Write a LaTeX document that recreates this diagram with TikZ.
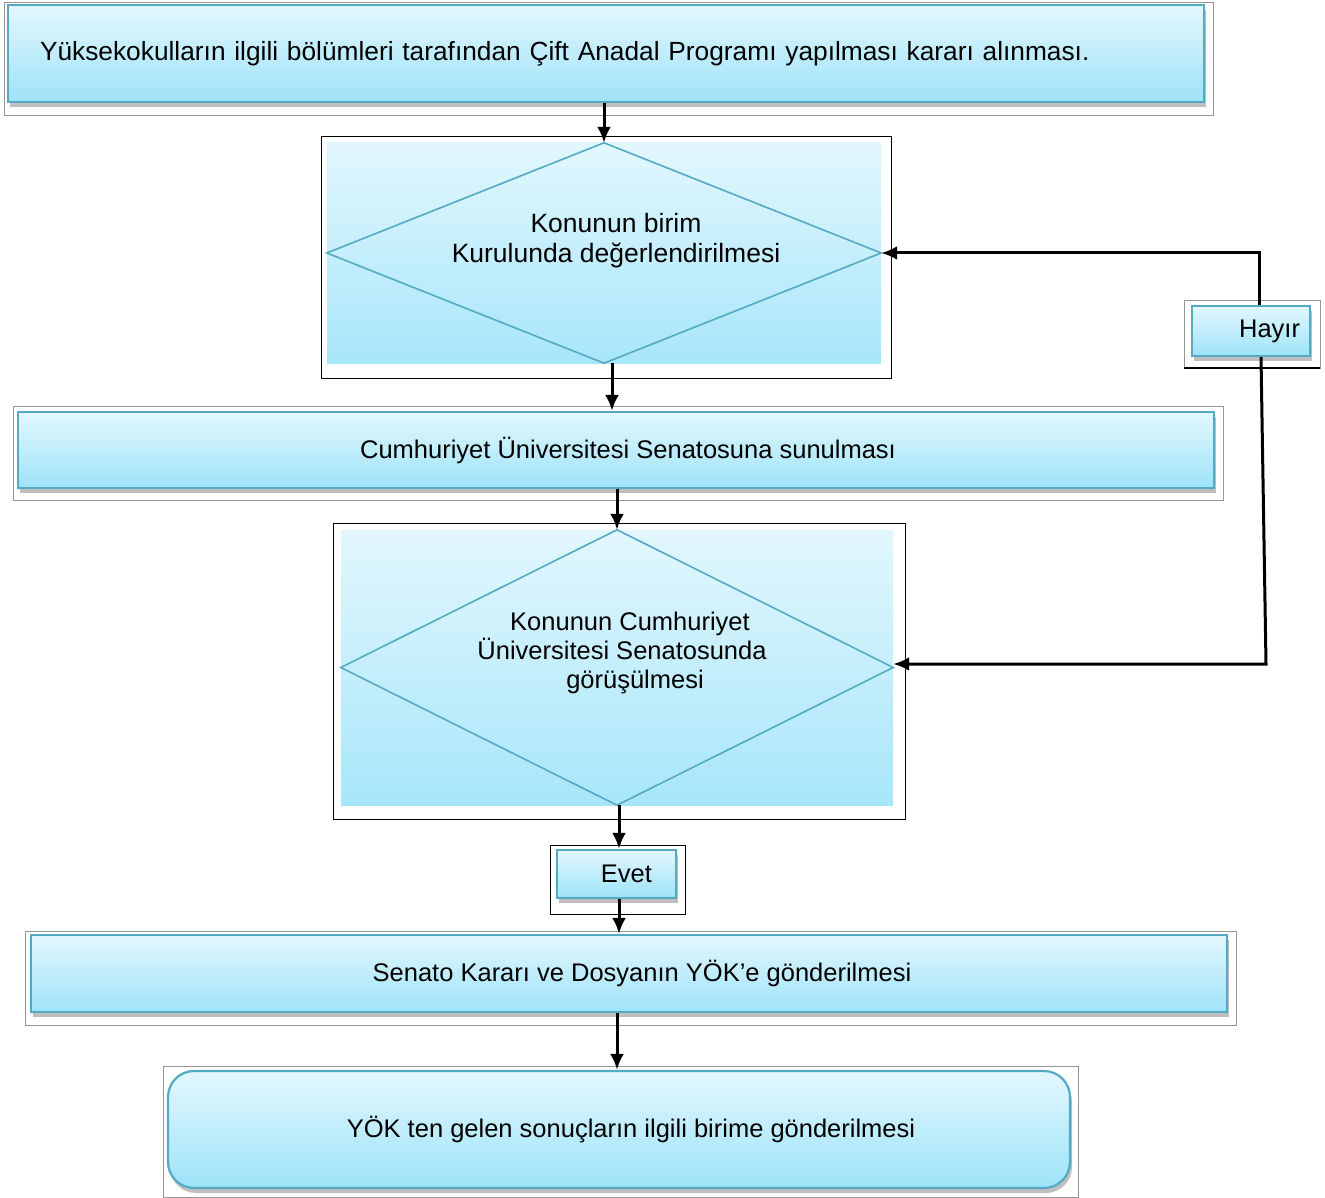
\documentclass[tikz,border=0pt]{standalone}
\usepackage{fontspec}
\setmainfont{Liberation Sans}
\usetikzlibrary{arrows.meta,positioning,shadows}

\definecolor{boxedge}{RGB}{84,170,194}
\definecolor{boxtop}{RGB}{226,247,253}
\definecolor{boxbottom}{RGB}{158,227,249}
\definecolor{framegray}{RGB}{150,150,150}

\begin{document}
\begin{tikzpicture}
[ x=1pt, y=-1pt,
		process/.style={rectangle,draw=boxedge,line width=2.2pt,top color=boxtop,bottom color=boxbottom,inner sep=0pt,
			drop shadow={shadow xshift=2pt,shadow yshift=-5pt,fill=black,opacity=0.25},font=\fontsize{25.5}{31}\selectfont},
		decision/.style={rectangle,top color=boxtop,bottom color=boxbottom!90,inner sep=0pt},
		rhomb/.style={draw=boxedge,line width=1.6pt},
		label text/.style={align=center,inner sep=0pt,font=\fontsize{26.5}{30}\selectfont},
		frame/.style={draw=framegray,line width=0.8pt},
		arrowOut/.style={-{Latex[length=16pt,width=14pt]},line width=3pt}]

	\useasboundingbox (0,0) rectangle (1325,1198);

	% picture frames
	\draw[frame] (4,2) rectangle (1213,115);
	\draw[frame,draw=black] (321,136) rectangle (891,378);
	\draw[frame] (13,406) rectangle (1223,500);
	\draw[frame,draw=black] (333,523) rectangle (905,819);
	\draw[frame,draw=black] (550,845) rectangle (685,914);
	\draw[frame] (25,931) rectangle (1236,1025);
	\draw[frame] (163,1066) rectangle (1078,1197);
	\draw[frame] (1184,300) rectangle (1320,368);
	\draw[line width=2pt] (1184,368) -- (1320,368);

	\node[process,minimum width=1196pt,minimum height=97pt,text width=1132pt,inner xsep=32pt,align=left,
		font=\fontsize{26.3}{31}\selectfont] (karar) at (606,53.5)
		{Yüksekokulların ilgili bölümleri tarafından Çift Anadal Programı yapılması kararı alınması.};

	\node[decision,minimum width=554pt,minimum height=220pt] (kurul) at (604,253) {};
	\draw[rhomb] (kurul.north) -- (kurul.east) -- (kurul.south) -- (kurul.west) -- cycle;
	\node[label text] (kurul text) at (616,241) {Konunun birim\\Kurulunda değerlendirilmesi};

	\node[process,minimum width=1196pt,minimum height=76pt] (sunum) at (616,450)
		{\hspace*{24pt}Cumhuriyet Üniversitesi Senatosuna sunulması};

	\node[decision,minimum width=552pt,minimum height=275pt] (gorus) at (617,667.5) {};
	\draw[rhomb] (gorus.north) -- (gorus.east) -- (gorus.south) -- (gorus.west) -- cycle;
	\node[label text,font=\fontsize{25.5}{29}\selectfont] (gorus text) at (622,653)
		{\hspace{16pt}Konunun Cumhuriyet\\Üniversitesi Senatosunda\\\hspace{26pt}görüşülmesi};

	\node[process,minimum width=119pt,minimum height=48pt,text width=71pt,inner xsep=24pt,align=right] (evet) at (616.5,874) {Evet};

	\node[process,minimum width=1196pt,minimum height=77pt] (senato) at (629,973.5)
		{\hspace*{26pt}Senato Kararı ve Dosyanın YÖK’e gönderilmesi};

	\node[process,rounded corners=26pt,minimum width=902pt,minimum height=117pt] (sonuc) at (619,1129.5)
		{\hspace*{24pt}YÖK ten gelen sonuçların ilgili birime gönderilmesi};

	\node[process,minimum width=118pt,minimum height=50pt,text width=98pt,inner xsep=10pt,align=right] (hayir) at (1251,331) {Hayır};

	\coordinate (hayir top) at (1259,253);
	\coordinate (hayir bottom) at (1266,664);

	\draw[arrowOut] (karar.south -| kurul.north) -- (kurul.north);
	\draw[arrowOut] ([xshift=8pt]kurul.south) -- ([xshift=-4pt]sunum.north);
	\draw[arrowOut] (sunum.south -| gorus.north) -- (gorus.north);
	\draw[arrowOut] ([xshift=2pt]gorus.south) -- ([xshift=2pt]gorus.south |- evet.north);
	\draw[arrowOut] ([xshift=2pt]gorus.south |- evet.south) -- ([xshift=2pt]gorus.south |- senato.north);
	\draw[arrowOut] ([xshift=-2pt]sonuc.north |- senato.south) -- ([xshift=-2pt]sonuc.north);

	\draw[arrowOut] (hayir.north -| hayir top) -- (hayir top) -- (kurul.east);
	\draw[arrowOut] ([xshift=10pt]hayir.south) -- (hayir bottom) -- (hayir bottom -| gorus.east);
\end{tikzpicture}
\end{document}
